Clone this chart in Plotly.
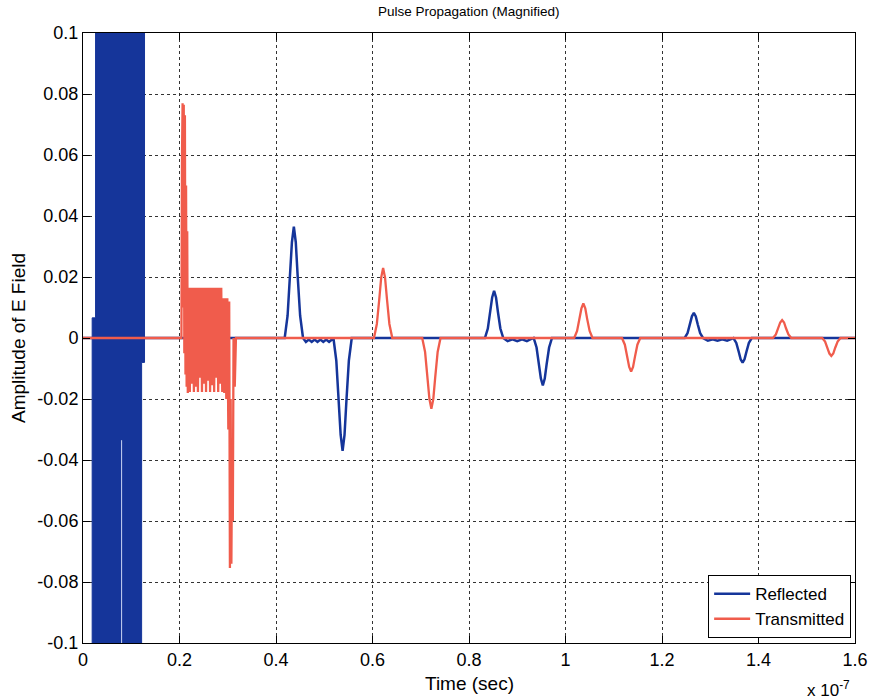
import plotly.graph_objects as go

# ---------------- data (time in units of 1e-7 s) ----------------
x_tick_vals = [0, 0.2, 0.4, 0.6, 0.8, 1.0, 1.2, 1.4, 1.6]
x_tick_text = ["0", "0.2", "0.4", "0.6", "0.8", "1", "1.2", "1.4", "1.6"]
y_tick_vals = [0.1, 0.08, 0.06, 0.04, 0.02, 0, -0.02, -0.04, -0.06, -0.08, -0.1]
y_tick_text = ["0.1", "0.08", "0.06", "0.04", "0.02", "0", "-0.02", "-0.04", "-0.06", "-0.08", "-0.1"]

# Reflected: saturated burst near t=0 (envelope outline of the dense oscillation)
burst_t = [0.019, 0.019, 0.026, 0.026, 0.1275, 0.1275, 0.1215, 0.1215, 0.019]
burst_v = [-0.5, 0.0066, 0.0066, 0.5, 0.5, -0.008, -0.008, -0.5, -0.5]

# thin gap visible inside the burst
gap_t = [0.080, 0.080]
gap_v = [-0.0335, -0.1]

# Reflected pulses
blue_t = [0.0,
          0.418, 0.424, 0.429, 0.433, 0.437, 0.441, 0.445, 0.450, 0.456,
          0.462, 0.468, 0.474, 0.480, 0.486, 0.492, 0.498, 0.504, 0.510, 0.516,
          0.519, 0.525, 0.530, 0.534, 0.538, 0.542, 0.546, 0.551, 0.557,
          0.833, 0.839, 0.844, 0.848, 0.852, 0.856, 0.860, 0.865, 0.871,
          0.880, 0.890, 0.900, 0.910, 0.920, 0.928,
          0.934, 0.940, 0.945, 0.949, 0.953, 0.957, 0.961, 0.966, 0.972,
          1.247, 1.253, 1.258, 1.262, 1.266, 1.270, 1.274, 1.279, 1.285,
          1.295, 1.305, 1.315, 1.325, 1.335,
          1.348, 1.354, 1.359, 1.363, 1.367, 1.371, 1.375, 1.380, 1.386,
          1.6]
blue_v = [0.0,
          0.0, 0.0073, 0.0201, 0.0314, 0.0365, 0.0314, 0.0201, 0.0073, 0.0,
          -0.0013, -0.0005, -0.0013, -0.0005, -0.0013, -0.0005, -0.0013, -0.0005, -0.0013, -0.0005,
          0.0, -0.0074, -0.0204, -0.0318, -0.0370, -0.0318, -0.0204, -0.0074, 0.0,
          0.0, 0.0031, 0.0085, 0.0133, 0.0155, 0.0133, 0.0085, 0.0031, 0.0,
          -0.0010, -0.0004, -0.0010, -0.0004, -0.0010, -0.0004,
          0.0, -0.0031, -0.0085, -0.0133, -0.0155, -0.0133, -0.0085, -0.0031, 0.0,
          0.0, 0.0016, 0.0045, 0.0071, 0.0082, 0.0071, 0.0045, 0.0016, 0.0,
          -0.0009, -0.0004, -0.0009, -0.0004, -0.0009,
          0.0, -0.0016, -0.0045, -0.0070, -0.0081, -0.0070, -0.0045, -0.0016, 0.0,
          0.0]

# Transmitted: ringing burst then pulses
red_t = [0.0, 0.2040,
         0.2052, 0.2064, 0.2076, 0.2088, 0.2100, 0.2112, 0.2124, 0.2136, 0.2148, 0.2160, 0.2172,
         0.2193, 0.2214, 0.2235, 0.2256, 0.2277, 0.2298, 0.2319, 0.2340, 0.2361, 0.2382,
         0.2403, 0.2424, 0.2445, 0.2466, 0.2487, 0.2508, 0.2529, 0.2550, 0.2571, 0.2592,
         0.2613, 0.2634, 0.2655, 0.2676, 0.2697, 0.2718, 0.2739, 0.2760, 0.2781, 0.2802,
         0.2823, 0.2844, 0.2865, 0.2886,
         0.2907, 0.2928, 0.2949, 0.2970, 0.2991, 0.3012, 0.3030, 0.3045, 0.3060, 0.3075, 0.3090, 0.3105,
         0.3120, 0.3145, 0.3170,
         0.603, 0.609, 0.614, 0.618, 0.622, 0.626, 0.630, 0.635, 0.641,
         0.703, 0.709, 0.714, 0.718, 0.722, 0.726, 0.730, 0.735, 0.741,
         1.018, 1.024, 1.029, 1.033, 1.037, 1.041, 1.045, 1.050, 1.056,
         1.117, 1.123, 1.128, 1.132, 1.136, 1.140, 1.144, 1.149, 1.155,
         1.430, 1.436, 1.441, 1.445, 1.449, 1.453, 1.457, 1.462, 1.468,
         1.532, 1.538, 1.543, 1.547, 1.551, 1.555, 1.559, 1.564, 1.570,
         1.6]
red_v = [0.0, 0.0,
         0.060, 0.077, 0.010, 0.0765, -0.005, 0.073, -0.012, 0.050, -0.016, 0.035, -0.018,
         0.0165, -0.0177, 0.0165, -0.0150, 0.0165, -0.0177, 0.0165, -0.0160, 0.0165, -0.0177,
         0.0165, -0.0130, 0.0165, -0.0177, 0.0165, -0.0150, 0.0165, -0.0177, 0.0165, -0.0140,
         0.0165, -0.0177, 0.0165, -0.0155, 0.0165, -0.0177, 0.0165, -0.0130, 0.0165, -0.0177,
         0.0165, -0.0150, 0.0165, -0.0177,
         0.013, -0.018, 0.013, -0.020, 0.013, -0.030, 0.012, -0.0754, -0.020, -0.074, -0.035, -0.060,
         0.0, -0.016, 0.0,
         0.0, 0.0046, 0.0127, 0.0198, 0.0230, 0.0198, 0.0127, 0.0046, 0.0,
         0.0, -0.0046, -0.0128, -0.0200, -0.0232, -0.0200, -0.0128, -0.0046, 0.0,
         0.0, 0.0023, 0.0062, 0.0097, 0.0113, 0.0097, 0.0062, 0.0023, 0.0,
         0.0, -0.0022, -0.0061, -0.0095, -0.0110, -0.0095, -0.0061, -0.0022, 0.0,
         0.0, 0.0012, 0.0032, 0.0051, 0.0059, 0.0051, 0.0032, 0.0012, 0.0,
         0.0, -0.0012, -0.0032, -0.0051, -0.0059, -0.0051, -0.0032, -0.0012, 0.0,
         0.0]

BLUE = "#15359a"
RED = "#f05c4c"
FONT = "Liberation Sans, Arial, Helvetica, sans-serif"

fig = go.Figure()
fig.add_trace(go.Scatter(x=burst_t, y=burst_v, mode="lines", fill="toself",
                         fillcolor=BLUE, line=dict(color=BLUE, width=1),
                         showlegend=False, hoverinfo="skip"))
fig.add_trace(go.Scatter(x=gap_t, y=gap_v, mode="lines",
                         line=dict(color="#c9d3f2", width=1),
                         showlegend=False, hoverinfo="skip"))
fig.add_trace(go.Scatter(x=blue_t, y=blue_v, mode="lines", name="Reflected",
                         line=dict(color=BLUE, width=2.5)))
fig.add_trace(go.Scatter(x=red_t, y=red_v, mode="lines", name="Transmitted",
                         line=dict(color=RED, width=2.3)))

axis_common = dict(showline=True, linecolor="black", linewidth=1, mirror="ticks",
                   ticks="inside", ticklen=7, tickcolor="black", tickwidth=1,
                   showgrid=True, gridcolor="#333333", griddash="dot", gridwidth=1,
                   zeroline=False, automargin=False, ticklabeloverflow="allow",
                   tickfont=dict(family=FONT, size=18, color="black"))

fig.update_xaxes(range=[0, 1.6], tickvals=x_tick_vals, ticktext=x_tick_text, **axis_common)
fig.update_yaxes(range=[-0.1, 0.1], tickvals=y_tick_vals, ticktext=y_tick_text, **axis_common)

fig.update_layout(
    width=869, height=699,
    margin=dict(l=83, r=14, t=33, b=56),
    paper_bgcolor="white", plot_bgcolor="white",
    font=dict(family=FONT, size=18, color="black"),
    showlegend=True,
    legend=dict(x=0.995, y=0.008, xanchor="right", yanchor="bottom",
                bgcolor="white", bordercolor="black", borderwidth=1,
                font=dict(family=FONT, size=17, color="black"),
                tracegroupgap=0, itemwidth=36),
    annotations=[
        dict(text="Pulse Propagation (Magnified)", xref="paper", yref="paper",
             x=0.5, y=1, yshift=12, xanchor="center", yanchor="bottom", showarrow=False,
             font=dict(family=FONT, size=13.5, color="black")),
        dict(text="Time (sec)", xref="paper", yref="paper", x=0.5, y=0, yshift=-28,
             xanchor="center", yanchor="top", showarrow=False,
             font=dict(family=FONT, size=19, color="black")),
        dict(text="Amplitude of E Field", xref="paper", yref="paper", x=0, xshift=-65,
             y=0.5, xanchor="center", yanchor="middle", textangle=-90, showarrow=False,
             font=dict(family=FONT, size=19, color="black")),
        dict(text="x 10<sup>-7</sup>", xref="paper", yref="paper", x=1, xshift=-3,
             y=0, yshift=-33, xanchor="right", yanchor="top", showarrow=False,
             font=dict(family=FONT, size=17, color="black")),
    ],
)

fig.write_html("out.html")
